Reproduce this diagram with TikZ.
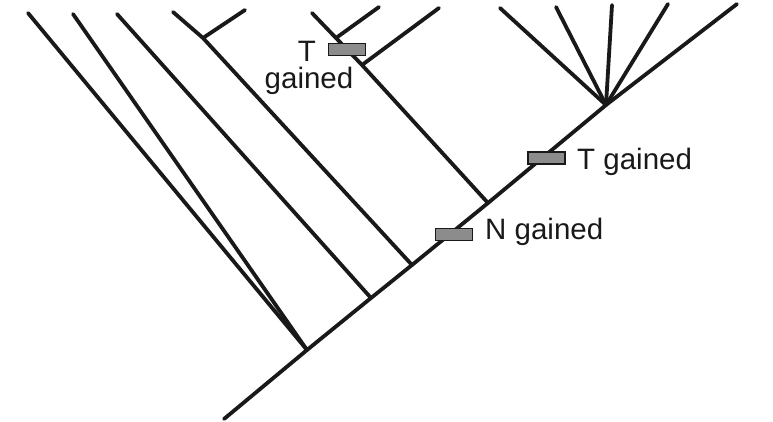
\documentclass[tikz,border=0pt]{standalone}
\usepackage{fontspec}
\setmainfont{Liberation Sans}
\begin{document}
\begin{tikzpicture}[x=1pt,y=-1pt,
  branch/.style={line width=3.8pt,line cap=round,black!90},
  marker/.style={draw=black!90,line width=1.4pt,fill=black!45,minimum width=37pt,minimum height=12pt,inner sep=0pt},
  lbl/.style={font=\fontsize{29.5}{32}\selectfont,inner sep=0pt,black!90}]
\useasboundingbox (0,0) rectangle (773,422);
% trunk points
\coordinate (root) at (224,419);
\coordinate (j1) at (307,350);
\coordinate (j2) at (371,298);
\coordinate (j3) at (412,265);
\coordinate (j4) at (488,203);
\coordinate (j5) at (606,105);
% tips
\coordinate (t1) at (28,13);
\coordinate (t2) at (73,14);
\coordinate (t3) at (117,14);
\coordinate (t4) at (173,12);
\coordinate (t4b) at (245,10);
\coordinate (k4) at (203,38);
\coordinate (t5) at (312,13);
\coordinate (k5a) at (336,38);
\coordinate (t5a) at (379,7);
\coordinate (k5b) at (362,65);
\coordinate (t5b) at (439,8);
\coordinate (f1) at (500,8);
\coordinate (f2) at (556,7);
\coordinate (f3) at (612,5);
\coordinate (f4) at (668,4);
\coordinate (f5) at (737,4);
% trunk
\draw[branch] (root) -- (j1) -- (j2) -- (j3) -- (j4) -- (j5) -- (f5);
% left branches
\draw[branch] (j1) -- (t1);
\draw[branch] (j1) -- (t2);
\draw[branch] (j2) -- (t3);
\draw[branch] (j3) -- (k4) -- (t4);
\draw[branch] (k4) -- (t4b);
\draw[branch] (j4) -- (k5b) -- (k5a) -- (t5);
\draw[branch] (k5a) -- (t5a);
\draw[branch] (k5b) -- (t5b);
% fan
\draw[branch] (j5) -- (f1);
\draw[branch] (j5) -- (f2);
\draw[branch] (j5) -- (f3);
\draw[branch] (j5) -- (f4);
% markers
\node[marker] (m1) at (347,49.5) {};
\node[marker] (m2) at (546.5,158) {};
\node[marker] (m3) at (454,234.5) {};
\node[lbl] (l1a) at (307,51) {T};
\node[lbl] (l1b) at (309,81) {gained};
\node[lbl,anchor=west] (l2) at (577,162) {T gained};
\node[lbl,anchor=west] (l3) at (485,232) {N gained};
\end{tikzpicture}
\end{document}
